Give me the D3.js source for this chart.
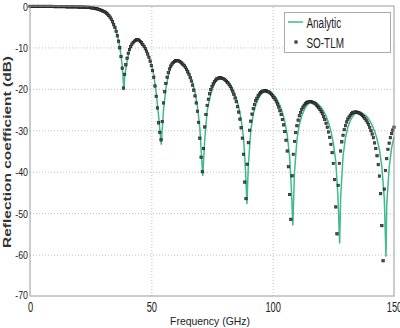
<!DOCTYPE html>
<html>
<head>
<meta charset="utf-8">
<script src="https://cdn.jsdelivr.net/npm/d3@7"></script>
<style>
  body { margin: 0; background: #fff; }
  svg { display: block; font-family: "Liberation Sans", Arial, sans-serif; }
</style>
</head>
<body>
<svg id="chart"></svg>
<script>
const xTicks = [0, 50, 100, 150];
const yTicks = [0, -10, -20, -30, -40, -50, -60, -70];
const legendLabels = ["Analytic", "SO-TLM"];

// analytic curve (GHz, dB)
const analyticFreq = [
  0, 5, 10, 15, 20, 22, 24, 25, 26, 27, 28, 29, 30, 31, 32, 33, 34, 35, 36, 37, 38, 38.7,
  39, 40, 41, 42, 43, 44, 45, 46, 47, 48, 49, 50, 51, 52, 53, 53.6, 54.1,
  55, 56, 57, 58, 59, 60, 61, 62, 63, 64, 65, 66, 67, 68, 69, 70, 70.6, 71.2,
  72, 73, 74, 75, 76, 77, 78, 79, 80, 81, 82, 83, 84, 85, 86, 87, 88, 88.8, 89.4,
  90, 91, 92, 93, 94, 95, 96, 97, 98, 99, 100, 101, 102, 103, 104, 105, 106, 107, 107.7, 108.3,
  109, 110, 111, 112, 113, 114, 115, 116, 117, 118, 119, 120, 121, 122, 123, 124, 125, 126, 126.9, 127.6,
  128, 129, 130, 131, 132, 133, 134, 135, 136, 137, 138, 139, 140, 141, 142, 143, 144, 145, 146, 146.7,
  147, 148, 149, 150
];
const analyticDb = [
  -0.1, -0.1, -0.12, -0.18, -0.24, -0.27, -0.32, -0.39, -0.49, -0.59, -0.73, -0.93, -1.17, -1.47, -1.9, -2.6, -3.7, -5.0, -7.0, -9.8, -14.4, -20.3,
  -17.2, -13.2, -10.8, -9.35, -8.6, -8.2, -8.25, -8.8, -9.55, -10.65, -12.1, -14.0, -16.6, -20.9, -26.5, -30.5, -33.5,
  -25.2, -19.9, -16.8, -14.9, -13.85, -13.35, -13.2, -13.4, -13.85, -14.55, -15.5, -16.8, -18.5, -20.85, -24.2, -29.6, -35.5, -41.0,
  -32.3, -25.3, -22.5, -20.2, -18.8, -17.9, -17.45, -17.33, -17.5, -17.9, -18.5, -19.4, -20.6, -22.2, -24.3, -27.3, -31.9, -39.5, -47.8,
  -38.2, -30.0, -26.1, -24.0, -22.5, -21.5, -20.85, -20.5, -20.46, -20.7, -21.15, -21.85, -22.75, -24.0, -25.65, -27.9, -31.1, -36.5, -44.0, -53.0,
  -40.0, -32.3, -28.6, -26.5, -25.1, -24.05, -23.4, -23.12, -23.1, -23.35, -23.85, -24.5, -25.4, -26.55, -28.1, -30.2, -33.1, -37.5, -46.0, -57.3,
  -46.5, -36.2, -31.8, -29.2, -27.7, -26.6, -25.95, -25.6, -25.6, -25.85, -26.25, -26.8, -27.65, -28.75, -30.25, -32.05, -34.75, -38.85, -46.5, -60.5,
  -48.0, -39.1, -34.3, -31.6
];

// SO-TLM samples (GHz, dB)
const tlmFreq = [
  0, 0.5, 1, 1.5, 2, 2.5, 3, 3.5, 4, 4.5, 5, 5.5, 6, 6.5, 7, 7.5, 8, 8.5, 9, 9.5,
  10, 10.5, 11, 11.5, 12, 12.5, 13, 13.5, 14, 14.5, 15, 15.5, 16, 16.5, 17, 17.5, 18, 18.5, 19, 19.5,
  20, 20.5, 21, 21.5, 22, 22.5, 23, 23.5, 24, 24.5, 25, 25.5, 26, 26.5, 27, 27.5, 28, 28.5, 29, 29.5,
  30, 30.5, 31, 31.5, 32, 32.5, 33, 33.5, 34, 34.5, 35, 35.5, 36, 36.5, 37, 37.5, 38, 38.5, 39, 39.5,
  40, 40.5, 41, 41.5, 42, 42.5, 43, 43.5, 44, 44.5, 45, 45.5, 46, 46.5, 47, 47.5, 48, 48.5, 49, 49.5,
  50, 50.5, 51, 51.5, 52, 52.5, 53, 53.5, 54, 54.5, 55, 55.5, 56, 56.5, 57, 57.5, 58, 58.5, 59, 59.5,
  60, 60.5, 61, 61.5, 62, 62.5, 63, 63.5, 64, 64.5, 65, 65.5, 66, 66.5, 67, 67.5, 68, 68.5, 69, 69.5,
  70, 70.5, 71, 71.5, 72, 72.5, 73, 73.5, 74, 74.5, 75, 75.5, 76, 76.5, 77, 77.5, 78, 78.5, 79, 79.5,
  80, 80.5, 81, 81.5, 82, 82.5, 83, 83.5, 84, 84.5, 85, 85.5, 86, 86.5, 87, 87.5, 88, 88.5, 89, 89.5,
  90, 90.5, 91, 91.5, 92, 92.5, 93, 93.5, 94, 94.5, 95, 95.5, 96, 96.5, 97, 97.5, 98, 98.5, 99, 99.5,
  100, 100.5, 101, 101.5, 102, 102.5, 103, 103.5, 104, 104.5, 105, 105.5, 106, 106.5, 107, 107.5, 108, 108.5, 109, 109.5,
  110, 110.5, 111, 111.5, 112, 112.5, 113, 113.5, 114, 114.5, 115, 115.5, 116, 116.5, 117, 117.5, 118, 118.5, 119, 119.5,
  120, 120.5, 121, 121.5, 122, 122.5, 123, 123.5, 124, 124.5, 125, 125.5, 126, 126.5, 127, 127.5, 128, 128.5, 129, 129.5,
  130, 130.5, 131, 131.5, 132, 132.5, 133, 133.5, 134, 134.5, 135, 135.5, 136, 136.5, 137, 137.5, 138, 138.5, 139, 139.5,
  140, 140.5, 141, 141.5, 142, 142.5, 143, 143.5, 144, 144.5, 145, 145.5, 146, 146.5, 147, 147.5, 148, 148.5, 149, 149.5,
  150
];
const tlmDb = [
  -0.1, -0.1, -0.1, -0.1, -0.1, -0.1, -0.1, -0.1, -0.1, -0.1, -0.1, -0.1, -0.1, -0.1, -0.1, -0.1, -0.1, -0.1, -0.1, -0.1,
  -0.15, -0.15, -0.15, -0.15, -0.15, -0.15, -0.15, -0.15, -0.15, -0.15, -0.2, -0.2, -0.2, -0.2, -0.2, -0.2, -0.2, -0.2, -0.2, -0.2,
  -0.25, -0.25, -0.25, -0.25, -0.25, -0.3, -0.3, -0.3, -0.3, -0.35, -0.4, -0.45, -0.5, -0.55, -0.6, -0.68, -0.75, -0.85, -0.95, -1.07,
  -1.2, -1.35, -1.5, -1.7, -1.95, -2.3, -2.7, -3.2, -3.8, -4.5, -5.2, -6.1, -7.2, -8.5, -10.1, -12.2, -15, -19.8, -16.5, -14.2,
  -12.6, -11.4, -10.5, -9.8, -9.2, -8.8, -8.5, -8.3, -8.15, -8.1, -8.33, -8.6, -8.9, -9.3, -9.75, -10.3, -10.9, -11.6, -12.4, -13.3,
  -14.4, -15.6, -17.2, -19.3, -21.8, -24.6, -28.2, -30.5, -32.3, -27.9, -23.4, -20.7, -18.7, -17.2, -16.1, -15.2, -14.5, -14.0, -13.65, -13.4,
  -13.25, -13.17, -13.22, -13.35, -13.5, -13.75, -14.05, -14.4, -14.8, -15.3, -15.9, -16.5, -17.3, -18.1, -19.1, -20.3, -21.7, -23.4, -25.4, -28.1,
  -31.9, -36.5, -40.0, -34.4, -29.2, -26.2, -24.0, -22.5, -21.2, -20.2, -19.4, -18.8, -18.3, -17.9, -17.6, -17.45, -17.33, -17.33, -17.4, -17.5,
  -17.7, -17.9, -18.2, -18.5, -18.9, -19.4, -20.0, -20.6, -21.35, -22.2, -23.1, -24.3, -25.6, -27.3, -29.4, -31.9, -35.8, -42.5, -46.5, -38.2,
  -33.0, -30.0, -27.8, -26.1, -24.8, -23.8, -22.9, -22.3, -21.7, -21.25, -20.95, -20.7, -20.55, -20.46, -20.46, -20.53, -20.66, -20.8, -21.05, -21.3,
  -21.7, -22.1, -22.5, -23.1, -23.7, -24.4, -25.3, -26.2, -27.4, -28.7, -30.3, -32.4, -35.0, -38.8, -45.5, -51.5, -41.0, -35.8, -32.7, -30.55,
  -28.9, -27.55, -26.5, -25.7, -24.96, -24.4, -23.95, -23.6, -23.35, -23.2, -23.1, -23.07, -23.13, -23.25, -23.4, -23.6, -23.9, -24.2, -24.55, -25.0,
  -25.5, -26.0, -26.7, -27.4, -28.3, -29.25, -30.4, -31.7, -33.4, -35.4, -38.0, -41.9, -48.5, -55.0, -43.3, -38.0, -35.0, -32.8, -31.2, -29.85,
  -28.9, -28.0, -27.3, -26.8, -26.35, -26.0, -25.8, -25.63, -25.6, -25.6, -25.66, -25.8, -25.96, -26.2, -26.45, -26.75, -27.1, -27.55, -28.05, -28.6,
  -29.3, -30.1, -30.9, -31.8, -33.05, -34.4, -36.15, -38.3, -41.05, -45.3, -53.0, -61.5, -44.2, -39.7, -36.85, -34.6, -33.1, -31.8, -30.8, -29.96,
  -29.25
];

const width = 400;
const height = 328;
const margin = { top: 6, right: 6, bottom: 32, left: 30 };
const green = "#3dbb8c";
const textColor = "#222";

const svg = d3.select("#chart")
    .attr("width", width)
    .attr("height", height);

const x = d3.scaleLinear()
    .domain([0, 150])
    .range([margin.left, width - margin.right]);

const y = d3.scaleLinear()
    .domain([-70, 0])
    .range([height - margin.bottom, margin.top]);

const plotW = width - margin.left - margin.right;
const plotH = height - margin.top - margin.bottom;

// dotted grid
svg.append("g")
    .attr("transform", `translate(0, ${height - margin.bottom})`)
    .call(d3.axisBottom(x).tickValues(xTicks.slice(1, -1)).tickSize(-plotH).tickFormat(""))
    .call(g => g.select(".domain").remove())
    .selectAll("line")
    .attr("stroke", "#bdbdbd")
    .attr("stroke-dasharray", "1,2");

svg.append("g")
    .attr("transform", `translate(${margin.left}, 0)`)
    .call(d3.axisLeft(y).tickValues(yTicks.slice(1, -1)).tickSize(-plotW).tickFormat(""))
    .call(g => g.select(".domain").remove())
    .selectAll("line")
    .attr("stroke", "#bdbdbd")
    .attr("stroke-dasharray", "1,2");

// analytic line
const line = d3.line()
    .x(i => x(analyticFreq[i]))
    .y(i => y(analyticDb[i]));

svg.append("path")
    .datum(d3.range(analyticFreq.length))
    .attr("fill", "none")
    .attr("stroke", green)
    .attr("stroke-width", 1.5)
    .attr("d", line);

// SO-TLM markers
svg.append("g")
    .selectAll("rect")
    .data(d3.range(tlmFreq.length))
    .join("rect")
    .attr("x", i => x(tlmFreq[i]) - 1.2)
    .attr("y", i => y(tlmDb[i]) - 1.2)
    .attr("width", 2.4)
    .attr("height", 2.4)
    .attr("fill", "#555")
    .attr("stroke", "#1a1a1a")
    .attr("stroke-width", 0.6);

// axes box
svg.append("rect")
    .attr("x", margin.left)
    .attr("y", margin.top)
    .attr("width", plotW)
    .attr("height", plotH)
    .attr("fill", "none")
    .attr("stroke", "#9a9a9a");

// tick labels
const yAxis = svg.append("g")
    .attr("transform", `translate(${margin.left}, 0)`)
    .call(d3.axisLeft(y).tickValues(yTicks).tickSize(0).tickFormat(d => String(d)));
yAxis.select(".domain").remove();
yAxis.selectAll("text")
    .attr("x", 0).attr("dy", null)
    .attr("fill", textColor)
    .style("font-size", "11px")
    .attr("transform", d => `translate(-2, ${d === -70 ? 2 : 4}) scale(0.8, 1)`);

const xAxis = svg.append("g")
    .attr("transform", `translate(0, ${height - margin.bottom})`)
    .call(d3.axisBottom(x).tickValues(xTicks).tickSize(0).tickFormat(d => String(d)));
xAxis.select(".domain").remove();
xAxis.selectAll("text")
    .attr("y", 0).attr("dy", null)
    .attr("fill", textColor)
    .style("font-size", "15px")
    .attr("transform", "translate(0, 16) scale(0.62, 1)");

// axis titles
svg.append("text")
    .attr("transform", `translate(${(margin.left + width - margin.right) / 2 - 2}, 325) scale(0.9, 1)`)
    .attr("text-anchor", "middle")
    .attr("fill", textColor)
    .style("font-size", "11.6px")
    .text("Frequency (GHz)");

svg.append("text")
    .attr("transform", "translate(10.5, 152) rotate(-90) scale(1, 0.68)")
    .attr("text-anchor", "middle")
    .attr("fill", "#333")
    .style("font-size", "15.5px")
    .style("font-weight", "bold")
    .text("Reflection coefficient (dB)");

// legend
const legend = svg.append("g");
legend.append("rect")
    .attr("x", 284.5).attr("y", 12.5)
    .attr("width", 106).attr("height", 40)
    .attr("fill", "#fff")
    .attr("stroke", "#aaa");
legend.append("line")
    .attr("x1", 288).attr("x2", 303)
    .attr("y1", 22).attr("y2", 22)
    .attr("stroke", green)
    .attr("stroke-width", 1.5);
legend.append("rect")
    .attr("x", 294.8).attr("y", 40.8)
    .attr("width", 2.4).attr("height", 2.4)
    .attr("fill", "#555")
    .attr("stroke", "#1a1a1a")
    .attr("stroke-width", 0.6);
legend.selectAll("text.lab")
    .data(legendLabels)
    .join("text")
    .attr("class", "lab")
    .attr("transform", (d, i) => `translate(306.5, ${27.5 + i * 20}) scale(0.64, 1)`)
    .attr("fill", textColor)
    .style("font-size", "15.5px")
    .text(d => d);
</script>
</body>
</html>
